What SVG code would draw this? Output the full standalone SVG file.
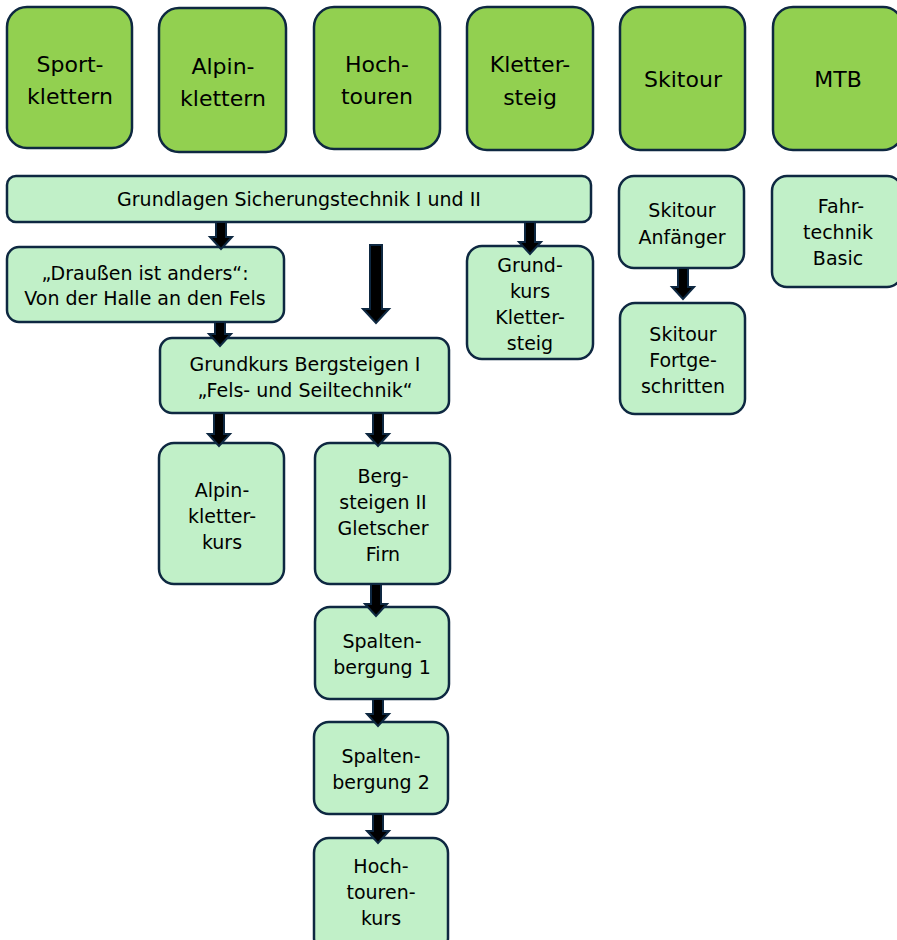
<svg xmlns="http://www.w3.org/2000/svg" width="897" height="940" viewBox="0 0 897 940">
<style>
.top{fill:#92d050;stroke:#0e2841;stroke-width:2.5}
.sub{fill:#c1f0c8;stroke:#0e2841;stroke-width:2.5}
.t1{font-family:"DejaVu Sans",sans-serif;font-size:22px;fill:#000;text-anchor:middle}
.t2{font-family:"DejaVu Sans",sans-serif;font-size:19px;fill:#000;text-anchor:middle}
.arr{fill:#000;stroke:#0e2841;stroke-width:2;stroke-linejoin:miter}
</style>
<rect width="897" height="940" fill="#fff"/>
<g id="sportklettern"><rect class="top" x="7" y="7" width="125" height="141" rx="20"/><text class="t1" x="70" y="72">Sport-</text><text class="t1" x="70" y="104">klettern</text></g>
<g id="alpinklettern"><rect class="top" x="159" y="8" width="127" height="144" rx="20"/><text class="t1" x="223" y="74">Alpin-</text><text class="t1" x="223" y="106">klettern</text></g>
<g id="hochtouren"><rect class="top" x="314" y="7" width="126" height="142" rx="20"/><text class="t1" x="377" y="72">Hoch-</text><text class="t1" x="377" y="104">touren</text></g>
<g id="klettersteig"><rect class="top" x="467" y="7" width="126" height="143" rx="20"/><text class="t1" x="530" y="72">Kletter-</text><text class="t1" x="530" y="105">steig</text></g>
<g id="skitour"><rect class="top" x="620" y="7" width="125" height="143" rx="20"/><text class="t1" x="683" y="87">Skitour</text></g>
<g id="mtb"><rect class="top" x="773" y="7" width="130" height="143" rx="20"/><text class="t1" x="838" y="87">MTB</text></g>

<g id="grundlagen"><rect class="sub" x="7" y="176" width="584" height="46" rx="9"/><text class="t2" x="299" y="206">Grundlagen Sicherungstechnik I und II</text></g>
<g id="draussen"><rect class="sub" x="7" y="247" width="277" height="75" rx="12"/><text class="t2" x="145" y="280">„Draußen ist anders“:</text><text class="t2" x="145" y="305">Von der Halle an den Fels</text></g>
<g id="grundkurs-klettersteig"><rect class="sub" x="467" y="246" width="126" height="113" rx="15"/><text class="t2" x="530" y="272">Grund-</text><text class="t2" x="530" y="298">kurs</text><text class="t2" x="530" y="324">Kletter-</text><text class="t2" x="530" y="350">steig</text></g>
<g id="skitour-anfaenger"><rect class="sub" x="619" y="176" width="125" height="92" rx="15"/><text class="t2" x="682" y="217">Skitour</text><text class="t2" x="682" y="244">Anfänger</text></g>
<g id="fahrtechnik"><rect class="sub" x="772" y="176" width="130" height="111" rx="15"/><text class="t2" x="841" y="213">Fahr-</text><text class="t2" x="838" y="239">technik</text><text class="t2" x="838" y="265">Basic</text></g>
<g id="skitour-fortgeschritten"><rect class="sub" x="620" y="303" width="125" height="111" rx="15"/><text class="t2" x="683" y="341">Skitour</text><text class="t2" x="683" y="367">Fortge-</text><text class="t2" x="683" y="393">schritten</text></g>
<g id="grundkurs-bergsteigen"><rect class="sub" x="160" y="338" width="289" height="75" rx="12"/><text class="t2" x="305" y="371">Grundkurs Bergsteigen I</text><text class="t2" x="305" y="397">„Fels- und Seiltechnik“</text></g>
<g id="alpinkletterkurs"><rect class="sub" x="159" y="443" width="125" height="141" rx="15"/><text class="t2" x="222" y="497">Alpin-</text><text class="t2" x="222" y="523">kletter-</text><text class="t2" x="222" y="549">kurs</text></g>
<g id="bergsteigen2"><rect class="sub" x="315" y="443" width="135" height="141" rx="15"/><text class="t2" x="383" y="483">Berg-</text><text class="t2" x="383" y="509">steigen II</text><text class="t2" x="383" y="535">Gletscher</text><text class="t2" x="383" y="561">Firn</text></g>
<g id="spaltenbergung1"><rect class="sub" x="315" y="607" width="134" height="92" rx="15"/><text class="t2" x="382" y="648">Spalten-</text><text class="t2" x="382" y="674">bergung 1</text></g>
<g id="spaltenbergung2"><rect class="sub" x="314" y="722" width="134" height="92" rx="15"/><text class="t2" x="381" y="763">Spalten-</text><text class="t2" x="381" y="789">bergung 2</text></g>
<g id="hochtourenkurs"><rect class="sub" x="314" y="838" width="134" height="115" rx="15"/><text class="t2" x="381" y="873">Hoch-</text><text class="t2" x="381" y="899">touren-</text><text class="t2" x="381" y="925">kurs</text></g>

<g id="connectors">
<path class="arr" d="M216,222 L226,222 L226,237 L232,237 L221,249 L210,237 L216,237 Z"/>
<path class="arr" d="M525,222 L535,222 L535,242 L541,242 L530,254 L519,242 L525,242 Z"/>
<path class="arr" d="M215,322 L225,322 L225,334 L231,334 L220,346 L209,334 L215,334 Z"/>
<path class="arr" d="M370,245 L382,245 L382,309 L389,309 L376,323 L363,309 L370,309 Z"/>
<path class="arr" d="M678,268 L688,268 L688,287 L694,287 L683,299 L672,287 L678,287 Z"/>
<path class="arr" d="M214,413 L224,413 L224,434 L230,434 L219,446 L208,434 L214,434 Z"/>
<path class="arr" d="M373,413 L383,413 L383,434 L389,434 L378,446 L367,434 L373,434 Z"/>
<path class="arr" d="M371,584 L381,584 L381,604 L387,604 L376,616 L365,604 L371,604 Z"/>
<path class="arr" d="M373,699 L383,699 L383,714 L389,714 L378,726 L367,714 L373,714 Z"/>
<path class="arr" d="M373,814 L383,814 L383,831 L389,831 L378,843 L367,831 L373,831 Z"/>
</g>
</svg>
